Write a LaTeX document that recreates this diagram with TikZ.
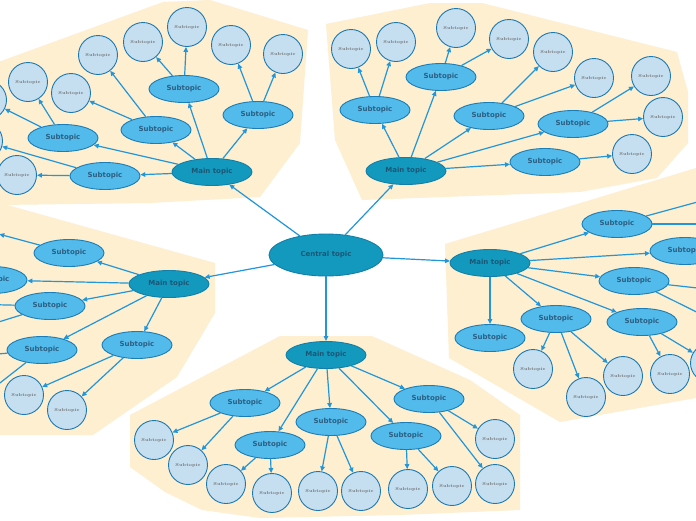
\documentclass[tikz,border=0pt]{standalone}
\usepackage{fontspec}
\newfontfamily\topicfont{DejaVu Sans}
\usetikzlibrary{shapes.geometric,arrows.meta}
\definecolor{bgfill}{HTML}{FDEFD0}
\definecolor{mainfill}{HTML}{1499BE}
\definecolor{mainborder}{HTML}{137FA8}
\definecolor{maintext}{HTML}{1A5775}
\definecolor{subfill}{HTML}{53BBEB}
\definecolor{subborder}{HTML}{1B7DB6}
\definecolor{subtext}{HTML}{2B5F82}
\definecolor{leaffill}{HTML}{C5DFF1}
\definecolor{leafborder}{HTML}{1B78B2}
\definecolor{leaftext}{HTML}{6E6E6E}
\definecolor{arrowc}{HTML}{2196DB}
\tikzset{
  zone/.style={fill=bgfill, draw=none},
  centralnode/.style={ellipse, draw=mainborder, line width=0.9pt, fill=mainfill, minimum width=114pt, minimum height=42pt, inner sep=0pt, text=maintext, font=\topicfont\bfseries\fontsize{7}{8}\selectfont},
  mainnode/.style={ellipse, draw=mainborder, line width=0.9pt, fill=mainfill, minimum width=80pt, minimum height=27pt, inner sep=0pt, text=maintext, font=\topicfont\bfseries\fontsize{7}{8}\selectfont},
  subnode/.style={ellipse, draw=subborder, line width=0.9pt, fill=subfill, minimum width=70pt, minimum height=27pt, inner sep=0pt, text=subtext, font=\topicfont\bfseries\fontsize{7}{8}\selectfont},
  leafnode/.style={circle, draw=leafborder, line width=0.9pt, fill=leaffill, minimum size=39pt, inner sep=0pt, text=leaftext, font=\bfseries\fontsize{4.3}{5}\selectfont},
  conn/.style={draw=arrowc, line width=1.2pt, -{Triangle[length=5pt,width=4.5pt]}}
}
\begin{document}
\begin{tikzpicture}[x=1pt,y=-1pt]
\useasboundingbox (0,0) rectangle (696,520);
\clip (0,0) rectangle (696,520);
\fill[white] (0,0) rectangle (696,520);
% zones
\path[zone] (-40,76) -- (163,2) -- (210,0) -- (308,30) -- (300,143) -- (260,197) -- (150,203) -- (0,205) -- (-40,205) -- cycle;
\path[zone] (326,24) -- (430,3) -- (482,3) -- (677,52) -- (688,92) -- (688,143) -- (657,178) -- (580,192) -- (362,200) -- (335,140) -- cycle;
\path[zone] (-40,200) -- (0,203) -- (215,263) -- (215,313) -- (177,377) -- (93,435) -- (-40,435) -- cycle;
\path[zone] (445,244) -- (696,168) -- (740,168) -- (740,395) -- (696,398) -- (560,422) -- (449,358) -- cycle;
\path[zone] (130,415) -- (280,336) -- (372,336) -- (470,380) -- (520,415) -- (520,510) -- (400,515) -- (260,518) -- (202,510) -- (165,492) -- (130,467) -- cycle;
% central
\node[centralnode] (ct) at (326,255) {Central topic};
% top-left cluster
\node[mainnode] (tlm) at (212,172) {Main topic};
\node[subnode] (tl1) at (184,89) {Subtopic};
\node[subnode] (tl2) at (258,115) {Subtopic};
\node[subnode] (tl3) at (156,130) {Subtopic};
\node[subnode] (tl4) at (63,138) {Subtopic};
\node[subnode] (tl5) at (105,176) {Subtopic};
\node[leafnode] (tl1a) at (143,42) {Subtopic};
\node[leafnode] (tl1b) at (187,27) {Subtopic};
\node[leafnode] (tl2a) at (231,45) {Subtopic};
\node[leafnode] (tl2b) at (283,54) {Subtopic};
\node[leafnode] (tl3a) at (98,55) {Subtopic};
\node[leafnode] (tl3b) at (71,93) {Subtopic};
\node[leafnode] (tl4a) at (28,82) {Subtopic};
\node[leafnode] (tl4b) at (-13,100) {Subtopic};
\node[leafnode] (tl5a) at (17,175) {Subtopic};
\node[leafnode] (tl5b) at (-17,141) {Subtopic};
% top-right cluster
\node[mainnode] (trm) at (406,171) {Main topic};
\node[subnode] (tr1) at (375,110) {Subtopic};
\node[subnode] (tr2) at (441,77) {Subtopic};
\node[subnode] (tr3) at (489,116) {Subtopic};
\node[subnode] (tr4) at (573,124) {Subtopic};
\node[subnode] (tr5) at (545,162) {Subtopic};
\node[leafnode] (tr1a) at (351,49) {Subtopic};
\node[leafnode] (tr1b) at (396,42) {Subtopic};
\node[leafnode] (tr2a) at (456,28) {Subtopic};
\node[leafnode] (tr2b) at (509,39) {Subtopic};
\node[leafnode] (tr3a) at (553,52) {Subtopic};
\node[leafnode] (tr3b) at (594,78) {Subtopic};
\node[leafnode] (tr4a) at (651,76) {Subtopic};
\node[leafnode] (tr4b) at (663,117) {Subtopic};
\node[leafnode] (tr5a) at (632,154) {Subtopic};
% left cluster
\node[mainnode] (lm) at (169,284) {Main topic};
\node[subnode] (l1) at (69,253) {Subtopic};
\node[subnode] (l2) at (-8,280) {Subtopic};
\node[subnode] (l3) at (50,306) {Subtopic};
\node[subnode] (l4) at (42,350) {Subtopic};
\node[subnode] (l5) at (137,345) {Subtopic};
\node[leafnode] (l1a) at (-20,229) {Subtopic};
\node[leafnode] (l3a) at (-35,304) {Subtopic};
\node[leafnode] (l3b) at (-40,334) {Subtopic};
\node[leafnode] (l4a) at (-35,357) {Subtopic};
\node[leafnode] (l4b) at (-32,408) {Subtopic};
\node[leafnode] (l5a) at (24,395) {Subtopic};
\node[leafnode] (l5b) at (67,410) {Subtopic};
% right cluster
\node[mainnode] (rm) at (490,263) {Main topic};
\node[subnode] (r1) at (617,224) {Subtopic};
\node[subnode] (r2) at (685,251) {Subtopic};
\node[subnode] (r3) at (634,281) {Subtopic};
\node[subnode] (r4) at (490,338) {Subtopic};
\node[subnode] (r5) at (556,319) {Subtopic};
\node[subnode] (r6) at (642,322) {Subtopic};
\node[leafnode] (r5a) at (533,369) {Subtopic};
\node[leafnode] (r5b) at (586,397) {Subtopic};
\node[leafnode] (r5c) at (623,376) {Subtopic};
\node[leafnode] (r6a) at (670,374) {Subtopic};
\node[leafnode] (r6b) at (710,363) {Subtopic};
\node[leafnode] (r1a) at (745,189) {Subtopic};
\node[leafnode] (r1b) at (752,224) {Subtopic};
\node[leafnode] (r3a) at (752,294) {Subtopic};
\node[leafnode] (r3b) at (745,336) {Subtopic};
% bottom cluster
\node[mainnode] (bm) at (326,355) {Main topic};
\node[subnode] (b1) at (245,403) {Subtopic};
\node[subnode] (b2) at (270,445) {Subtopic};
\node[subnode] (b3) at (331,422) {Subtopic};
\node[subnode] (b4) at (406,436) {Subtopic};
\node[subnode] (b5) at (429,399) {Subtopic};
\node[leafnode] (b1a) at (154,440) {Subtopic};
\node[leafnode] (b1b) at (188,465) {Subtopic};
\node[leafnode] (b2a) at (226,484) {Subtopic};
\node[leafnode] (b2b) at (272,493) {Subtopic};
\node[leafnode] (b3a) at (318,491) {Subtopic};
\node[leafnode] (b3b) at (361,491) {Subtopic};
\node[leafnode] (b4a) at (408,489) {Subtopic};
\node[leafnode] (b4b) at (452,486) {Subtopic};
\node[leafnode] (b5a) at (495,439) {Subtopic};
\node[leafnode] (b5b) at (495,484) {Subtopic};
% connectors
\foreach \a/\b in {ct/tlm, ct/trm, ct/lm, ct/rm, ct/bm,
  tlm/tl1, tlm/tl2, tlm/tl3, tlm/tl4, tlm/tl5,
  tl1/tl1a, tl1/tl1b, tl2/tl2a, tl2/tl2b, tl3/tl3a, tl3/tl3b, tl4/tl4a, tl4/tl4b, tl5/tl5a, tl5/tl5b,
  trm/tr1, trm/tr2, trm/tr3, trm/tr4, trm/tr5,
  tr1/tr1a, tr1/tr1b, tr2/tr2a, tr2/tr2b, tr3/tr3a, tr3/tr3b, tr4/tr4a, tr4/tr4b, tr5/tr5a,
  lm/l1, lm/l2, lm/l3, lm/l4, lm/l5,
  l1/l1a, l3/l3a, l3/l3b, l4/l4a, l4/l4b, l5/l5a, l5/l5b,
  rm/r1, rm/r2, rm/r3, rm/r4, rm/r5, rm/r6,
  r5/r5a, r5/r5b, r5/r5c, r6/r6a, r6/r6b, r1/r1a, r1/r1b, r3/r3a, r3/r3b,
  bm/b1, bm/b2, bm/b3, bm/b4, bm/b5,
  b1/b1a, b1/b1b, b2/b2a, b2/b2b, b3/b3a, b3/b3b, b4/b4a, b4/b4b, b5/b5a, b5/b5b}
  {\draw[conn] (\a) -- (\b);}
\end{tikzpicture}
\end{document}
